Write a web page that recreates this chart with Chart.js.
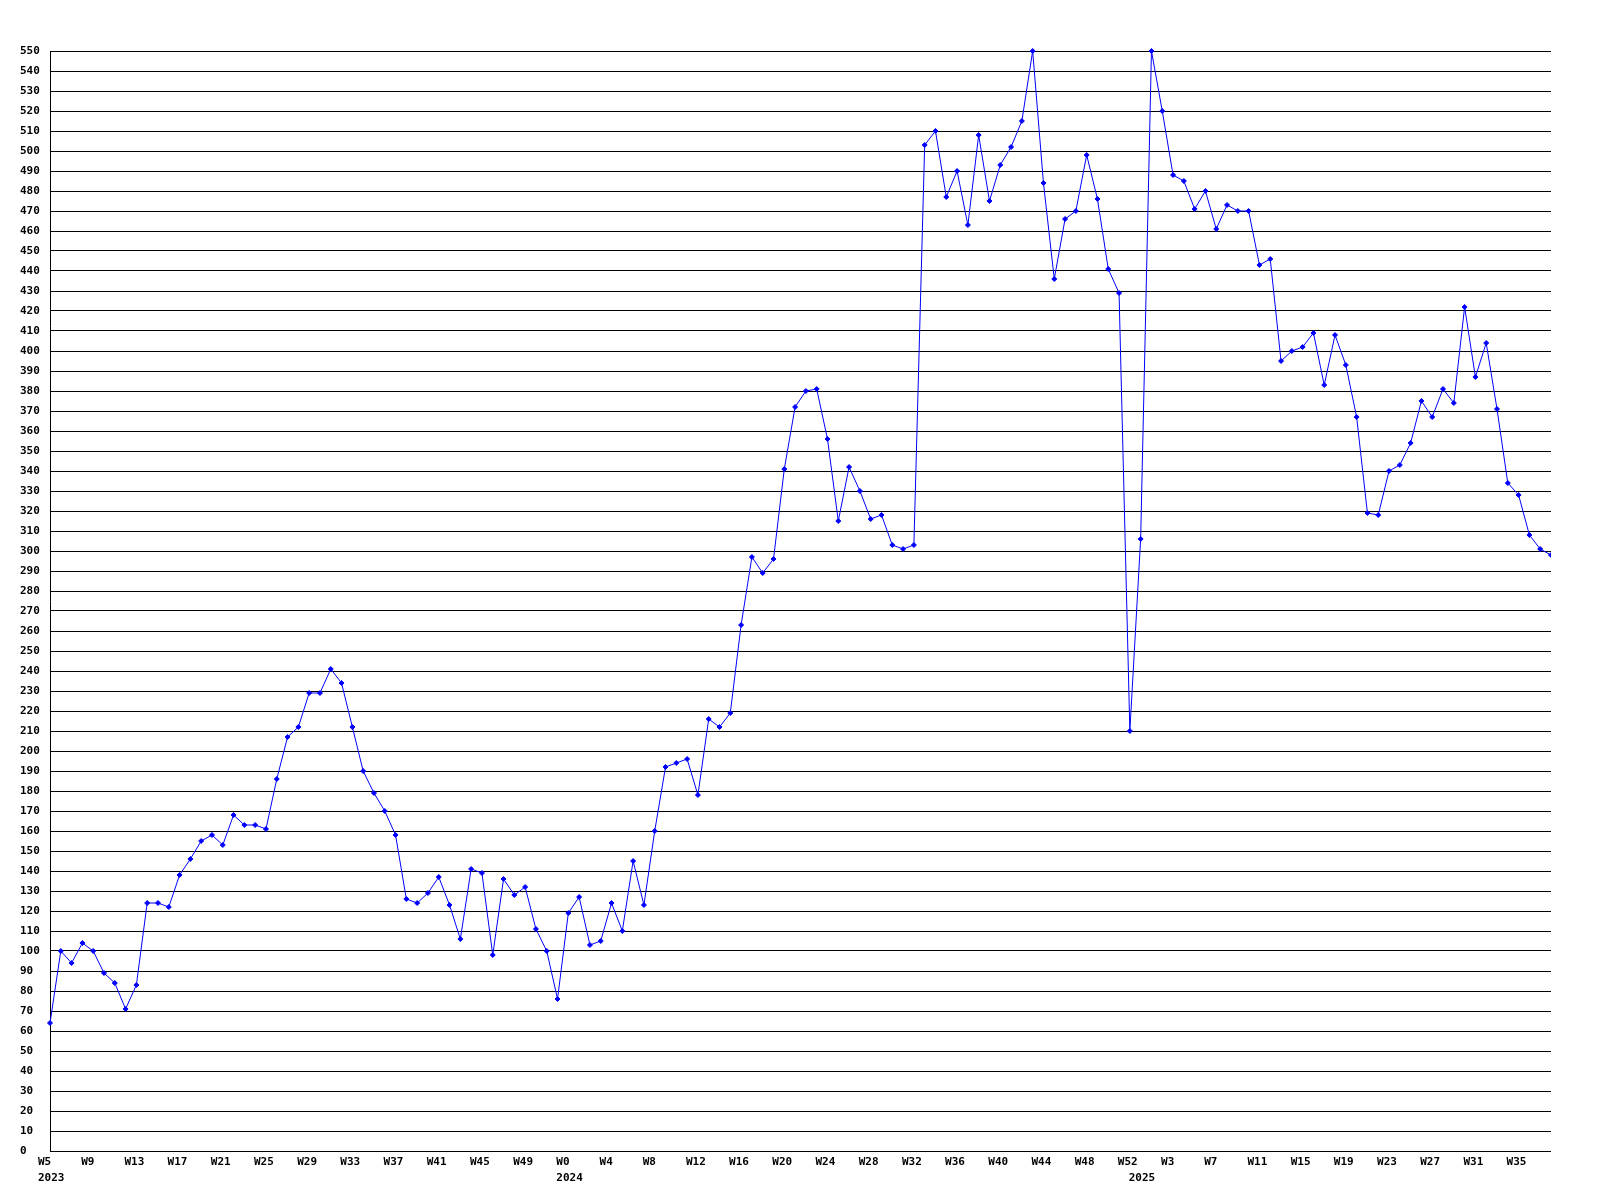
<!DOCTYPE html>
<html>
<head>
<meta charset="utf-8">
<title>Weekly chart</title>
<script src="https://cdn.jsdelivr.net/npm/chart.js@4/dist/chart.umd.min.js"></script>
<style>
  body { margin: 0; background: #ffffff; }
  #wrap { width: 1600px; height: 1200px; position: relative; }
</style>
</head>
<body>
<div id="wrap"><canvas id="weekChart"></canvas></div>
<script>
  // weekly values, one array per year (2023 starts at W5, the others at W0)
  const firstWeek2023 = 5;
  const values2023 = [64, 100, 94, 104, 100, 89, 84, 71, 83, 124, 124, 122, 138, 146, 155, 158,
    153, 168, 163, 163, 161, 186, 207, 212, 229, 229, 241, 234, 212, 190, 179, 170,
    158, 126, 124, 129, 137, 123, 106, 141, 139, 98, 136, 128, 132, 111, 100, 76];

  const firstWeek2024 = 0;
  const values2024 = [119, 127, 103, 105, 124, 110, 145, 123, 160, 192, 194, 196, 178, 216, 212, 219,
    263, 297, 289, 296, 341, 372, 380, 381, 356, 315, 342, 330, 316, 318, 303, 301,
    303, 503, 510, 477, 490, 463, 508, 475, 493, 502, 515, 550, 484, 436, 466, 470,
    498, 476, 441, 429, 210];

  const firstWeek2025 = 0;
  const values2025 = [306, 550, 520, 488, 485, 471, 480, 461, 473, 470, 470, 443, 446, 395, 400, 402,
    409, 383, 408, 393, 367, 319, 318, 340, 343, 354, 375, 367, 381, 374, 422, 387,
    404, 371, 334, 328, 308, 301, 298];

  // y axis range
  const yMin = 0;
  const yMax = 550;
  const yStep = 10;

  // only every 4th week gets a label
  const weekLabelEvery = 4;

  // build the week labels and the year row under them
  const weekLabels = [];
  const yearLabels = [];
  const allValues = [];

  function addYear(year, firstWeek, values) {
    values.forEach((v, i) => {
      weekLabels.push('W' + (firstWeek + i));
      yearLabels.push(i === 0 ? String(year) : '');
      allValues.push(v);
    });
  }

  addYear(2023, firstWeek2023, values2023);
  addYear(2024, firstWeek2024, values2024);
  addYear(2025, firstWeek2025, values2025);

  const tickFont = { family: 'DejaVu Sans Mono', size: 11, weight: 'bold' };

  function renderWeekChart() {
    const canvas = document.getElementById('weekChart');

    new Chart(canvas, {
      type: 'line',
      data: {
        labels: weekLabels,
        datasets: [{
          data: allValues,
          borderColor: '#0000ff',
          backgroundColor: '#0000ff',
          borderWidth: 1,
          tension: 0,
          fill: false,
          pointStyle: 'rectRot',
          pointRadius: 2.5,
          pointBorderWidth: 1,
          pointBorderColor: '#0000ff',
          pointBackgroundColor: '#0000ff',
          clip: { left: 6, top: 6, right: 0, bottom: 6 }
        }]
      },
      options: {
        responsive: true,
        maintainAspectRatio: false,
        devicePixelRatio: 1,
        animation: false,
        layout: {
          padding: { left: 20, right: 49, top: 51, bottom: 13 }
        },
        plugins: {
          legend: { display: false },
          title: { display: false },
          tooltip: { enabled: false }
        },
        scales: {
          x: {
            type: 'category',
            position: 'bottom',
            offset: false,
            grid: { display: false, drawTicks: false },
            border: { display: false },
            ticks: {
              autoSkip: false,
              maxRotation: 0,
              minRotation: 0,
              align: 'start',
              labelOffset: -12,
              padding: 5,
              color: '#000000',
              font: tickFont,
              callback: function (value, index) {
                return index % weekLabelEvery === 0 ? weekLabels[index] : null;
              }
            },
            afterFit: function (scale) { scale.height = 16; }
          },
          years: {
            type: 'category',
            position: 'bottom',
            labels: yearLabels,
            offset: false,
            grid: { display: false, drawTicks: false },
            border: { display: false },
            ticks: {
              autoSkip: false,
              maxRotation: 0,
              minRotation: 0,
              align: 'start',
              labelOffset: -12,
              padding: 5,
              color: '#000000',
              font: tickFont,
              callback: function (value, index) {
                return yearLabels[index] !== '' ? yearLabels[index] : null;
              }
            },
            afterFit: function (scale) { scale.height = 20; }
          },
          y: {
            min: yMin,
            max: yMax,
            grid: { color: '#000000', lineWidth: 1, drawTicks: false },
            border: { display: true, color: '#000000', width: 1 },
            ticks: {
              stepSize: yStep,
              maxTicksLimit: 100,
              autoSkip: false,
              crossAlign: 'far',
              padding: 0,
              color: '#000000',
              font: tickFont
            },
            afterFit: function (scale) { scale.width = 30; }
          }
        }
      }
    });
  }

  renderWeekChart();
</script>
</body>
</html>
